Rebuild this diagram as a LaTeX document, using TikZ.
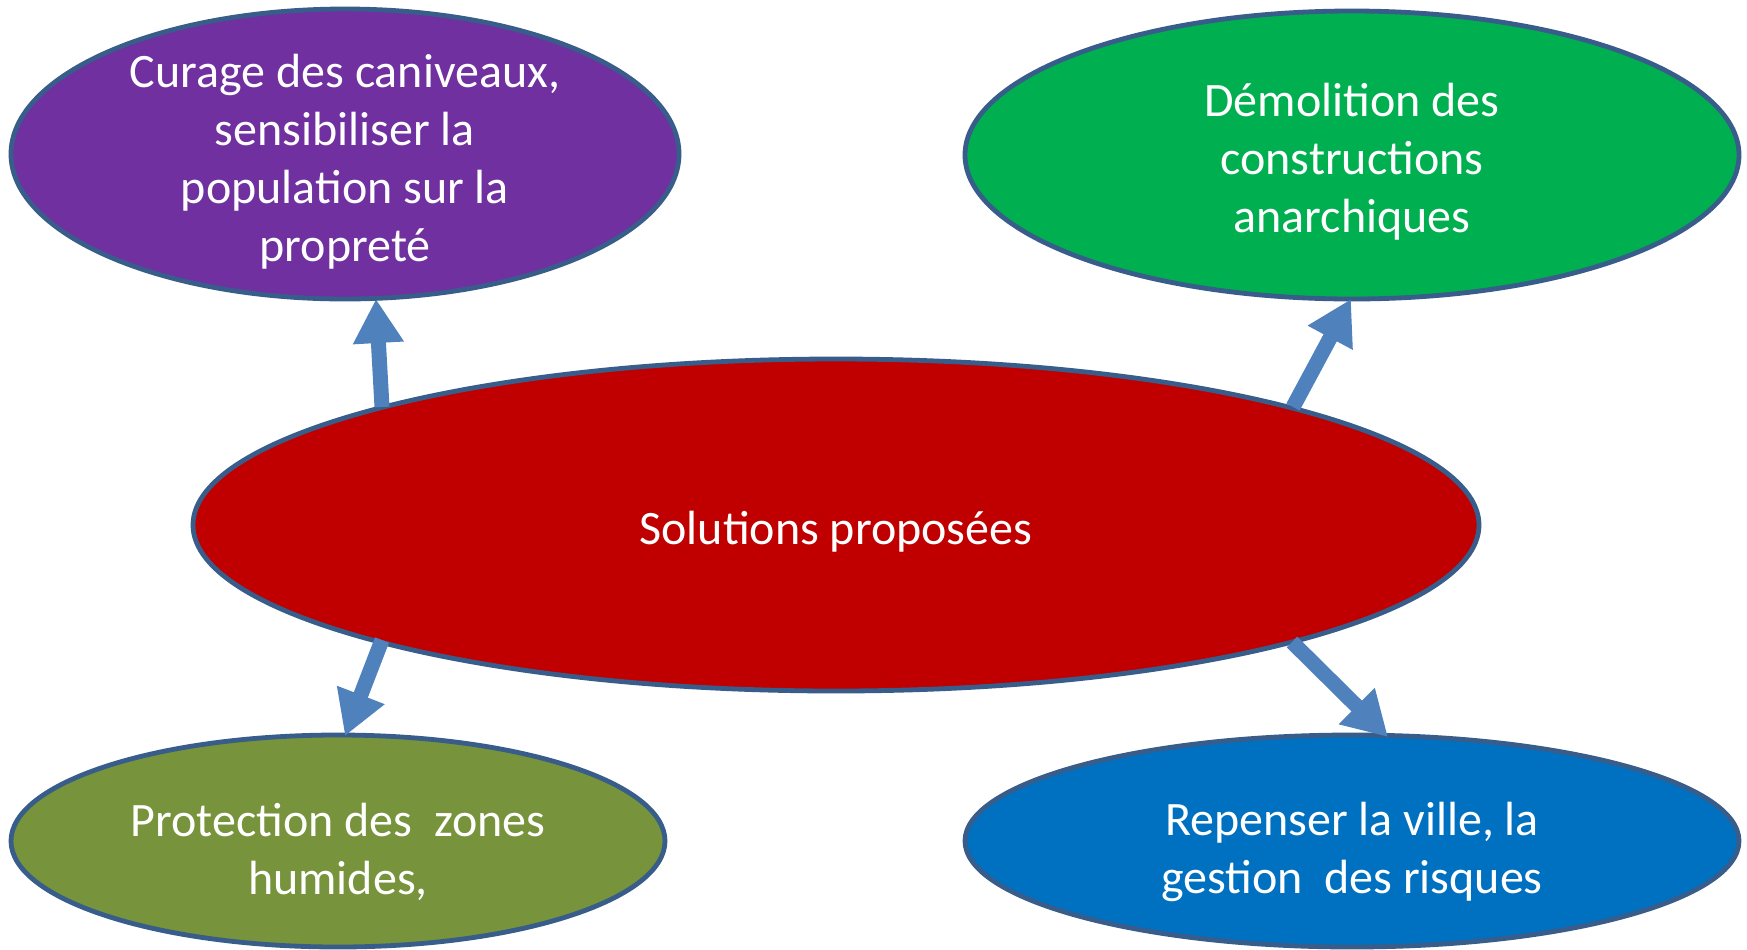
\documentclass[tikz,border=0pt]{standalone}
\usepackage{fontspec}
\setmainfont{Carlito}
\usetikzlibrary{shapes.geometric,arrows.meta,calc}
\definecolor{rim}{HTML}{385D8A}
\definecolor{shaft}{HTML}{4F81BD}
\definecolor{cpurple}{HTML}{7030A0}
\definecolor{cgreen}{HTML}{00B050}
\definecolor{cred}{HTML}{C00000}
\definecolor{colive}{HTML}{77933C}
\definecolor{cblue}{HTML}{0070C0}
\tikzset{
  bubble/.style={ellipse, draw=rim, line width=2.4pt, inner sep=0pt, outer sep=0pt},
  caption/.style={text=white, align=center, inner sep=0pt,
    font=\fontsize{24pt}{29pt}\selectfont},
  link/.style={draw=shaft, line width=7.5pt,
    -{Triangle[width=24pt,length=22pt]}}
}
\begin{document}
\begin{tikzpicture}[x=0.5pt,y=-0.5pt]
\useasboundingbox[fill=white] (0,0) rectangle (1747,949);

% ellipses
\node[bubble, fill=cpurple, minimum width=334pt, minimum height=145pt] (curage) at (345,154) {};
\node[bubble, fill=cgreen, minimum width=387pt, minimum height=144pt] (demol) at (1352,155) {};
\node[bubble, fill=cred, minimum width=643pt, minimum height=166pt] (sol) at (836,525) {};
\node[bubble, fill=colive, minimum width=327pt, minimum height=106pt] (zones) at (338,841) {};
\node[bubble, fill=cblue, minimum width=387pt, minimum height=106pt] (ville) at (1352,841) {};

% texts
\node[caption] (curageT) at (345,162) {Curage des caniveaux,\\sensibiliser la\\population sur la\\propreté};
\node[caption] (demolT) at (1352,162) {Démolition des\\constructions\\anarchiques};
\node[caption] (solT) at (836,532) {Solutions proposées};
\node[caption] (zonesT) at (338,852) {Protection des\ \ zones\\humides,};
\node[caption] (villeT) at (1352,852) {Repenser la ville, la\\gestion\ \ des risques};

% arrows, from points on the central ellipse to the outer ones
\draw[link] ($(sol.center)+(-454,-118)$) -- ($(curage.center)+(31,145)$);
\draw[link] ($(sol.center)+(457,-118)$) -- ($(demol.center)+(-1,144)$);
\draw[link] ($(sol.center)+(-454,115)$) -- ($(zones.center)+(7,-105)$);
\draw[link] ($(sol.center)+(456,117)$) -- ($(ville.center)+(36,-104)$);
\end{tikzpicture}
\end{document}
